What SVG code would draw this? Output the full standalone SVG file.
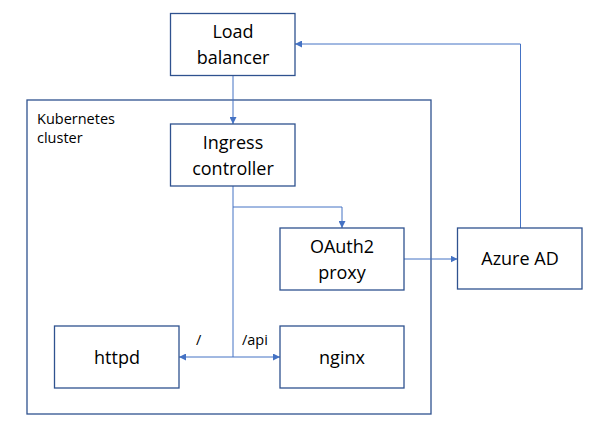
<svg xmlns="http://www.w3.org/2000/svg" width="600" height="438" viewBox="0 0 600 438">
<defs>
<style>
.box{fill:#fff;stroke:#2F528F;stroke-width:1.3}
.lbl{font-family:"Open Sans","Noto Sans",sans-serif;font-size:18px;fill:#000;text-anchor:middle}
.sm{font-family:"Open Sans","Noto Sans",sans-serif;font-size:14.5px;fill:#000}
.ln{fill:none;stroke:#4472C4;stroke-width:1}
</style>
<marker id="ah" viewBox="0 0 10 10" refX="10" refY="5" markerWidth="7" markerHeight="7" markerUnits="userSpaceOnUse" orient="auto">
<path d="M0,0 L10,5 L0,10 z" fill="#4472C4"/>
</marker>
</defs>
<rect width="600" height="438" fill="#fff"/>
<g id="cluster">
<rect class="box" x="27" y="100" width="404" height="314"/>
<text class="sm" x="37" y="124">Kubernetes</text>
<text class="sm" x="37" y="143">cluster</text>
</g>
<g id="connectors">
<path class="ln" d="M233,75 V124" marker-end="url(#ah)"/>
<path class="ln" d="M233,186 V357"/>
<path class="ln" d="M233,207 H342 V228" marker-end="url(#ah)"/>
<path class="ln" d="M233,357 H179" marker-end="url(#ah)"/>
<path class="ln" d="M233,357 H280" marker-end="url(#ah)"/>
<path class="ln" d="M404,259 H457.5" marker-end="url(#ah)"/>
<path class="ln" d="M520.5,228 V44 H295" marker-end="url(#ah)"/>
<text class="sm" x="196" y="345" font-size="16">/</text>
<text class="sm" x="242" y="345" font-size="14">/api</text>
</g>
<g id="lb">
<rect class="box" x="170.5" y="13.5" width="124.5" height="62"/>
<text class="lbl" x="233" y="38">Load</text>
<text class="lbl" x="233" y="64">balancer</text>
</g>
<g id="ingress">
<rect class="box" x="170.5" y="124" width="124.5" height="62"/>
<text class="lbl" x="233" y="149">Ingress</text>
<text class="lbl" x="233" y="175">controller</text>
</g>
<g id="oauth2">
<rect class="box" x="280" y="228" width="124" height="62"/>
<text class="lbl" x="342" y="253">OAuth2</text>
<text class="lbl" x="342" y="279">proxy</text>
</g>
<g id="azure">
<rect class="box" x="457.5" y="228" width="124.5" height="61"/>
<text class="lbl" x="520" y="265">Azure AD</text>
</g>
<g id="httpd">
<rect class="box" x="54.5" y="326" width="124.5" height="62"/>
<text class="lbl" x="117" y="364">httpd</text>
</g>
<g id="nginx">
<rect class="box" x="280" y="326" width="124" height="62"/>
<text class="lbl" x="342" y="364">nginx</text>
</g>
</svg>
